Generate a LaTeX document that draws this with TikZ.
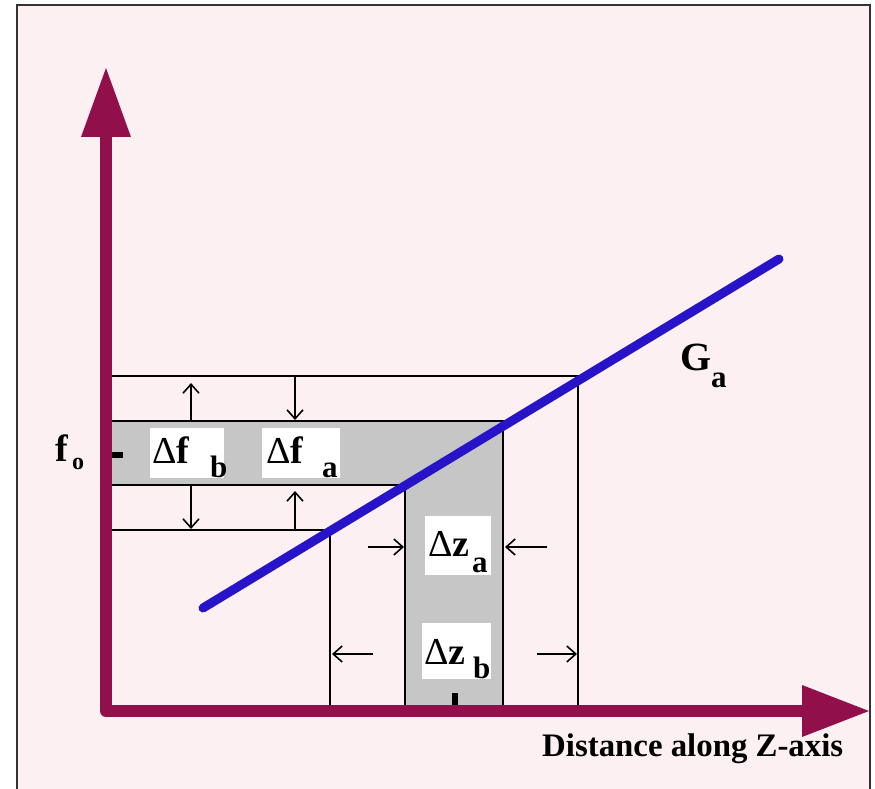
\documentclass[tikz,border=0pt]{standalone}
\usepackage{fontspec}
\setmainfont{Liberation Serif}
\usetikzlibrary{arrows.meta}
\definecolor{bgpink}{RGB}{253,240,243}
\definecolor{axiscol}{RGB}{145,15,75}
\definecolor{bandgray}{RGB}{198,198,198}
\definecolor{linecol}{RGB}{40,20,200}
\tikzset{
  thinline/.style={line width=1.8pt, black},
  dimarrow/.style={line width=1.6pt, black, -{Straight Barb[length=9pt,width=16pt,line width=1.6pt]}},
  labelbox/.style={fill=white, draw=none},
  bigtxt/.style={inner sep=0pt, anchor=base west, font=\fontsize{38}{38}\selectfont},
  subtxt/.style={inner sep=0pt, anchor=base west, font=\fontsize{31}{31}\selectfont\bfseries},
  marker/.style={fill=black, draw=none}
}
\begin{document}
\begin{tikzpicture}[x=1pt,y=-1pt]
\useasboundingbox (0,0) rectangle (875,789);
\fill[white] (0,0) rectangle (875,789);
\filldraw[fill=bgpink, draw=black!80, line width=2pt] (17,5) rectangle (870,810);
% gray L band
\fill[bandgray] (106,421) -- (503,421) -- (503,711) -- (405,711) -- (405,485) -- (106,485) -- cycle;
% coordinates
\coordinate (h1l) at (106,376); \coordinate (h1r) at (578,376);
\coordinate (h2l) at (106,421); \coordinate (h2r) at (503,421);
\coordinate (h3l) at (106,485); \coordinate (h3r) at (405,485);
\coordinate (h4l) at (106,530); \coordinate (h4r) at (330,530);
\coordinate (v1b) at (330,711); \coordinate (v2b) at (405,711);
\coordinate (v3b) at (503,711); \coordinate (v4b) at (578,711);
\draw[thinline] (h1l) -- (h1r) -- (v4b);
\draw[thinline] (h2l) -- (h2r) -- (v3b);
\draw[thinline] (h3l) -- (h3r) -- (v2b);
\draw[thinline] (h4l) -- (h4r) -- (v1b);
% label boxes
\fill[labelbox] (150,428) rectangle (224,478);
\fill[labelbox] (262,428) rectangle (340,478);
\fill[labelbox] (425,516) rectangle (491,575);
\fill[labelbox] (422,623) rectangle (491,679);
% markers
\fill[marker] (112,452) rectangle (123,458);
\fill[marker] (452,693) rectangle (458,705);
% dimension arrows
\coordinate (a1s) at (191,421); \coordinate (a1e) at (191,383);
\coordinate (a2s) at (295,376); \coordinate (a2e) at (295,420);
\coordinate (a3s) at (191,485); \coordinate (a3e) at (191,529);
\coordinate (a4s) at (295,530); \coordinate (a4e) at (295,491);
\coordinate (a5s) at (368,547); \coordinate (a5e) at (404,547);
\coordinate (a6s) at (547,547); \coordinate (a6e) at (505,547);
\coordinate (a7s) at (373,654); \coordinate (a7e) at (332,654);
\coordinate (a8s) at (537,654); \coordinate (a8e) at (577,654);
\draw[dimarrow] (a1s) -- (a1e);
\draw[dimarrow] (a2s) -- (a2e);
\draw[dimarrow] (a3s) -- (a3e);
\draw[dimarrow] (a4s) -- (a4e);
\draw[dimarrow] (a5s) -- (a5e);
\draw[dimarrow] (a6s) -- (a6e);
\draw[dimarrow] (a7s) -- (a7e);
\draw[dimarrow] (a8s) -- (a8e);
% blue line
\coordinate (g1) at (203,608); \coordinate (g2) at (779,259);
\draw[linecol, line width=9pt, line cap=round] (g1) -- (g2);
% axes
\coordinate (ytop) at (106,136); \coordinate (orig) at (106,711); \coordinate (xend) at (803,711);
\draw[axiscol, line width=12pt, line join=round] (ytop) -- (orig) -- (xend);
\fill[axiscol] (106,68) -- (81,137) -- (131,137) -- cycle;
\fill[axiscol] (869,711) -- (802,685) -- (802,737) -- cycle;
% texts
\node[bigtxt] (fo) at (55,461) {\bfseries f};
\node[inner sep=0pt, anchor=base west, font=\fontsize{24}{24}\selectfont\bfseries] (fosub) at (72,469) {o};
\node[bigtxt] (dfb) at (152,463) {Δ\textbf{f}};
\node[subtxt] (dfbs) at (210,477) {b};
\node[bigtxt] (dfa) at (266,463) {Δ\textbf{f}};
\node[subtxt] (dfas) at (322,477) {a};
\node[bigtxt] (dza) at (428,556) {Δ\textbf{z}};
\node[subtxt] (dzas) at (472,572) {a};
\node[bigtxt] (dzb) at (424,664) {Δ\textbf{z}};
\node[subtxt] (dzbs) at (473,678) {b};
\node[inner sep=0pt, anchor=base west, font=\fontsize{40}{40}\selectfont\bfseries] (ga) at (680,370) {G};
\node[subtxt] (gas) at (711,387) {a};
\node[inner sep=0pt, anchor=base west, font=\fontsize{29}{29}\selectfont\bfseries] (xlab) at (542,756) {\resizebox{301pt}{!}{Distance along Z-axis}};
\end{tikzpicture}
\end{document}
